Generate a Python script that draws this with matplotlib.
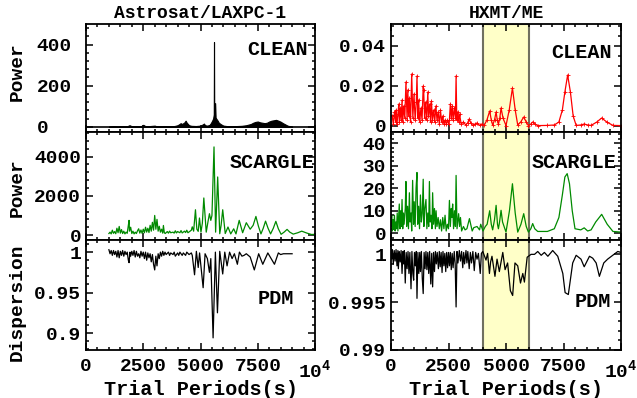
import matplotlib
matplotlib.use('Agg')
import matplotlib.pyplot as plt
from matplotlib.ticker import MultipleLocator, AutoMinorLocator, FixedLocator

plt.rcParams['font.family'] = ['Liberation Mono', 'DejaVu Sans Mono']
plt.rcParams['font.weight'] = 'bold'
plt.rcParams['mathtext.fontset'] = 'custom'
plt.rcParams['mathtext.rm'] = 'Liberation Mono:bold'
plt.rcParams['mathtext.bf'] = 'Liberation Mono:bold'

# --- Astrosat/LAXPC-1 ---
ast_clean_p = [1000, 1200, 1400, 1600, 1800, 1900, 2000, 2200, 2400, 2500, 2600, 2800,
               3000, 3050, 3200, 3400, 3600, 3800, 3900, 4000, 4100, 4130, 4200, 4300,
               4350, 4400, 4500, 4600, 4800, 5000, 5100, 5150, 5200, 5300, 5400, 5450,
               5500, 5550, 5580, 5590, 5600, 5640, 5660, 5700, 5750, 5800, 5900, 6000,
               6200, 6400, 6600, 6800, 7000, 7200, 7300, 7400, 7500, 7600, 7700, 7800,
               7900, 8000, 8100, 8200, 8300, 8400, 8500, 8600, 8700, 8800, 8900, 9000]
ast_clean = [2, 3, 2, 4, 3, 8, 3, 4, 3, 10, 3, 4,
             6, 4, 3, 4, 3, 3, 5, 8, 15, 18, 14, 22,
             30, 20, 8, 5, 4, 6, 12, 16, 8, 6, 10, 18,
             28, 40, 60, 412, 60, 115, 45, 38, 30, 20, 12, 6,
             3, 3, 4, 5, 8, 14, 20, 24, 26, 22, 20, 18,
             20, 26, 30, 32, 34, 30, 25, 18, 12, 6, 3, 2]

ast_scargle_p = [1000, 1050, 1100, 1150, 1200, 1250, 1300, 1350, 1400, 1450, 1500, 1550,
                 1600, 1650, 1700, 1750, 1800, 1850, 1880, 1900, 1950, 2000, 2050, 2100,
                 2150, 2200, 2250, 2300, 2350, 2400, 2450, 2500, 2550, 2600, 2650, 2700,
                 2750, 2800, 2850, 2900, 2950, 3000, 3050, 3100, 3150, 3200, 3250, 3300,
                 3350, 3380, 3420, 3460, 3550, 3600, 3650, 3700, 3800, 3850, 3900, 3950,
                 4000, 4100, 4150, 4200, 4300, 4350, 4400, 4450, 4500, 4600, 4640, 4700,
                 4780, 4840, 4900, 4955, 5020, 5080, 5145, 5250, 5330, 5390, 5450, 5500,
                 5590, 5660, 5750, 5840, 5900, 5970, 6080, 6200, 6320, 6450, 6550, 6690,
                 6840, 7000, 7170, 7300, 7420, 7530, 7640, 7740, 7840, 7950, 8060, 8180,
                 8290, 8400, 8520, 8650, 8780, 8900, 9050, 9250, 9420, 9650, 9850, 10000]
ast_scargle = [80, 150, 60, 250, 90, 180, 70, 350, 120, 440, 100, 280,
               80, 200, 60, 150, 90, 500, 750, 200, 400, 80, 200, 60,
               150, 80, 220, 320, 100, 260, 90, 300, 120, 400, 150, 350,
               130, 500, 200, 650, 250, 1000, 300, 800, 200, 450, 150, 300,
               100, 490, 120, 80, 180, 100, 200, 120, 150, 100, 220, 110,
               180, 120, 230, 110, 200, 130, 250, 120, 160, 250, 420, 200,
               1290, 300, 190, 870, 150, 600, 1890, 150, 700, 1090, 750, 1000,
               4490, 150, 2960, 70, 500, 1290, 80, 410, 60, 320, 60, 750,
               120, 630, 300, 500, 950, 450, 60, 350, 710, 350, 60, 350,
               700, 320, 40, 150, 290, 150, 50, 120, 200, 100, 30, 40]

ast_pdm_p = [1000, 1050, 1100, 1150, 1200, 1250, 1300, 1350, 1400, 1450, 1500, 1550,
             1600, 1650, 1700, 1750, 1800, 1850, 1880, 1920, 1950, 2000, 2050, 2100,
             2150, 2200, 2250, 2300, 2350, 2400, 2450, 2500, 2550, 2600, 2650, 2700,
             2750, 2800, 2850, 2900, 2950, 3000, 3050, 3100, 3150, 3200, 3250, 3300,
             3350, 3400, 3450, 3500, 3600, 3650, 3700, 3800, 3850, 3900, 4000, 4050,
             4100, 4200, 4250, 4350, 4400, 4500, 4600, 4640, 4740, 4820, 4900, 4960,
             5115, 5200, 5300, 5390, 5450, 5550, 5650, 5740, 5840, 5970, 6060, 6160,
             6270, 6380, 6480, 6610, 6700, 6810, 6900, 7000, 7170, 7350, 7540, 7720,
             7940, 8230, 8400, 8500, 8620, 8800, 9000]
ast_pdm = [1.003, 0.998, 1.002, 0.996, 1.002, 0.997, 1.001, 0.994, 1.002, 0.993, 1.001, 0.996,
           1.002, 0.995, 1.001, 0.997, 1.000, 0.990, 0.987, 1.000, 0.995, 1.001, 0.996, 1.002,
           0.994, 1.001, 0.995, 0.998, 0.993, 1.001, 0.995, 1.000, 0.992, 1.000, 0.990, 0.999,
           0.993, 0.998, 0.988, 0.997, 0.985, 0.978, 0.995, 0.983, 0.998, 0.992, 1.000, 0.995,
           1.001, 0.996, 1.000, 0.997, 1.000, 0.996, 0.999, 0.997, 1.000, 0.995, 0.999, 0.996,
           1.000, 0.996, 0.999, 0.996, 1.000, 0.997, 0.999, 0.996, 0.972, 1.001, 0.981, 0.999,
           0.956, 0.998, 0.992, 0.975, 0.992, 0.894, 1.000, 0.925, 1.001, 0.973, 1.000, 0.983,
           1.000, 0.992, 0.998, 0.985, 1.000, 0.995, 0.996, 0.998, 0.994, 0.978, 0.998, 0.985,
           0.999, 0.985, 0.999, 0.997, 0.998, 0.998, 0.998]

# --- HXMT/ME ---
hx_clean_p = [50, 100, 150, 200, 220, 260, 300, 340, 360, 400,
              440, 480, 510, 550, 600, 650, 700, 730, 770, 800,
              850, 900, 950, 1000, 1050, 1100, 1130, 1170, 1200, 1250,
              1300, 1350, 1400, 1420, 1460, 1500, 1550, 1600, 1630, 1680,
              1720, 1760, 1800, 1850, 1900, 1950, 2000, 2050, 2100, 2150,
              2200, 2250, 2300, 2350, 2400, 2450, 2500, 2540, 2580, 2620,
              2660, 2700, 2750, 2800, 2830, 2860, 2900, 2950, 2980, 3050,
              3150, 3250, 3330, 3400, 3470, 3550, 3650, 3740, 3850, 3950,
              4050, 4170, 4290, 4360, 4420, 4500, 4570, 4620, 4670, 4730,
              4785, 4870, 5000, 5140, 5280, 5400, 5510, 5640, 5770, 5880,
              5975, 6080, 6160, 6250, 6380, 6800, 7100, 7300, 7450, 7560,
              7680, 7800, 7920, 8050, 8250, 8400, 8550, 8700, 8950, 9160,
              9380, 9650, 10000]
hx_clean = [0.005, 0.001, 0.007, 0.002, 0.008, 0.001, 0.006, 0.011, 0.002, 0.009,
            0.003, 0.013, 0.002, 0.010, 0.004, 0.022, 0.003, 0.018, 0.005, 0.014,
            0.002, 0.026, 0.004, 0.016, 0.003, 0.012, 0.025, 0.004, 0.013, 0.002,
            0.009, 0.003, 0.020, 0.018, 0.004, 0.012, 0.003, 0.017, 0.005, 0.011,
            0.002, 0.0125, 0.003, 0.008, 0.002, 0.010, 0.003, 0.007, 0.001, 0.008,
            0.002, 0.005, 0.001, 0.003, 0.001, 0.003, 0.001, 0.003, 0.011, 0.004,
            0.010, 0.003, 0.009, 0.004, 0.025, 0.003, 0.007, 0.002, 0.006, 0.001,
            0.002, 0.0005, 0.0015, 0.0035, 0.0015, 0.0003, 0.001, 0.0015, 0.0003, 0.001,
            0.0003, 0.003, 0.0075, 0.003, 0.0005, 0.003, 0.007, 0.003, 0.0008, 0.004,
            0.009, 0.004, 0.0002, 0.008, 0.019, 0.008, 0.0005, 0.002, 0.0045, 0.002,
            0.0002, 0.001, 0.002, 0.001, 0.0002, 0.0003, 0.0005, 0.002, 0.008, 0.017,
            0.0255, 0.017, 0.005, 0.0003, 0.0005, 0.001, 0.0005, 0.0003, 0.002, 0.004,
            0.002, 0.0003, 0.0002]

hx_scargle_p = [0, 30, 60, 90, 120, 150, 180, 210, 240, 270, 300, 330, 360, 390, 420, 450,
                480, 510, 540, 570, 620, 650, 680, 720, 760, 800, 830, 870, 900, 940, 980,
                1010, 1050, 1090, 1130, 1160, 1200, 1240, 1280, 1320, 1360, 1400, 1430,
                1470, 1520, 1560, 1600, 1640, 1670, 1700, 1740, 1780, 1810, 1850, 1890,
                1930, 1960, 2000, 2050, 2100, 2150, 2200, 2250, 2300, 2350, 2400, 2450,
                2500, 2540, 2580, 2620, 2650, 2680, 2720, 2760, 2800, 2830, 2870, 2910,
                2940, 2980, 3020, 3070, 3150, 3220, 3300, 3410, 3530, 3600, 3740, 3850,
                3900, 4000, 4100, 4180, 4290, 4360, 4420, 4500, 4570, 4630, 4670, 4720,
                4785, 4850, 5000, 5150, 5280, 5400, 5510, 5650, 5770, 5880, 5975, 6080,
                6160, 6250, 6380, 6800, 7100, 7300, 7450, 7560, 7660, 7760, 7880, 8000,
                8250, 8400, 8550, 8700, 8900, 9160, 9400, 9650, 10000]
hx_scargle = [3, 8, 1, 6, 2, 8, 1, 5, 2, 9, 1, 7, 13, 2, 10, 3,
              15, 2, 9, 4, 11, 23, 3, 12, 2, 18, 5, 9, 1, 23.5, 4,
              14, 3, 20, 27, 4, 12, 2, 17, 5, 9, 24, 3,
              11, 15, 2, 9, 3, 23, 5, 8, 2, 18, 4, 11,
              2, 10, 3, 7, 2, 6, 1, 7, 2, 8, 1, 4,
              2, 14.6, 3, 11, 7, 13, 2, 10, 3, 25.7, 2, 6,
              8.7, 3, 7, 1, 3, 1.5, 2, 6.5, 1, 2.5, 3, 1.5,
              4, 1, 3, 4, 10, 4, 1.5, 6, 12.4, 4, 2, 5,
              10.2, 5, 0.5, 10, 22, 9, 0.5, 4, 8.7, 3, 0.5, 2,
              4.3, 2, 0.8, 0.8, 2, 7, 17, 25, 26.5, 22, 10, 2,
              1.5, 2.4, 1, 1.5, 5, 8.4, 4, 0.8, 0.5]

hx_pdm_p = [0, 30, 60, 100, 140, 180, 220, 260, 300, 320, 360, 400, 440, 480, 520, 550,
            580, 620, 660, 700, 740, 780, 820, 870, 910, 950, 985, 1020, 1060, 1100,
            1130, 1170, 1210, 1250, 1280, 1320, 1360, 1400, 1440, 1480, 1520, 1560,
            1600, 1640, 1680, 1730, 1770, 1810, 1850, 1890, 1930, 1970, 2010, 2060,
            2100, 2140, 2180, 2220, 2260, 2300, 2340, 2380, 2420, 2460, 2500, 2540,
            2580, 2620, 2660, 2700, 2750, 2790, 2830, 2870, 2910, 2970, 3020, 3070,
            3120, 3160, 3200, 3260, 3300, 3340, 3400, 3450, 3500, 3560, 3620, 3680,
            3740, 3800, 3880, 3930, 3990, 4130, 4200, 4280, 4330, 4390, 4520, 4610,
            4710, 4860, 4960, 5070, 5190, 5290, 5390, 5510, 5630, 5730, 5800, 5920,
            6090, 6240, 6380, 6530, 6670, 6820, 7030, 7250, 7470, 7570, 7710, 7900,
            8050, 8260, 8400, 8630, 8770, 8920, 9060, 9250, 9420, 9640, 9860, 10000]
hx_pdm = [1.0006, 0.9995, 1.0005, 0.9990, 1.0004, 0.9993, 1.0005, 0.9988, 1.0004, 0.9985,
          1.0003, 0.9992, 1.0004, 0.9980, 1.0003, 0.9990, 1.0004, 0.9970, 1.0002, 0.9985,
          1.0003, 0.9980, 1.0002, 0.9964, 1.0003, 0.9980, 0.9973, 1.0002, 0.9988, 1.0003,
          0.9954, 1.0002, 0.9980, 1.0002, 0.9982, 1.0003, 0.9975, 0.9959, 1.0002, 0.9985,
          1.0003, 0.9984, 1.0002, 0.9980, 1.0003, 0.9969, 1.0001, 0.9966, 1.0002, 0.9982,
          1.0003, 0.9990, 1.0002, 0.9985, 1.0003, 0.9987, 1.0002, 0.9981, 1.0003, 0.9988,
          1.0001, 0.9982, 1.0002, 0.9986, 1.0002, 0.9988, 1.0002, 0.9984, 1.0001, 0.9986,
          1.0003, 0.9990, 0.9945, 1.0003, 0.9991, 1.0004, 0.9993, 1.0003, 0.9986, 1.0002,
          0.9990, 1.0004, 0.9991, 1.0003, 0.9985, 1.0002, 0.9991, 1.0003, 0.9983, 1.0002,
          0.9995, 1.0001, 0.9980, 1.0001, 1.0003, 0.9994, 1.0001, 0.9980, 0.9992, 0.9998,
          0.9977, 0.9995, 0.9982, 1.0002, 0.9984, 0.9991, 0.9962, 0.9957, 0.9991, 0.9988,
          0.9970, 0.9980, 0.9971, 0.9997, 1.0000, 1.0000, 1.0003, 0.9999, 1.0002, 0.9998,
          1.0004, 0.9998, 0.9980, 0.9960, 0.9958, 0.9991, 0.9999, 0.9995, 0.9987, 0.9998,
          0.9996, 0.9991, 0.9977, 0.9991, 0.9995, 0.9999, 1.0003, 1.0002]

xticks = [0, 2500, 5000, 7500, 10000]
xticklabels = ['0', '2500', '5000', '7500', r'$\mathbf{10^{4}}$']
band = (4000, 6000)

fig = plt.figure(figsize=(6.37, 3.98), dpi=100)

lefts = [86 / 637, 391 / 637]
widths = [229 / 637, 230 / 637]
rows = [(1 - 132 / 398, 108 / 398), (1 - 240 / 398, 108 / 398), (1 - 350 / 398, 110 / 398)]

axes = [[fig.add_axes([lefts[c], rows[r][0], widths[c], rows[r][1]]) for c in range(2)]
        for r in range(3)]

# left column
ax = axes[0][0]
ax.axhline(0, color='black', lw=1.2)
ax.fill_between(ast_clean_p, 0, ast_clean, color='black', lw=0.8)
ax.set_ylim(-25, 500)
ax.set_yticks([0, 200, 400])
ax.set_yticklabels(['0  ', '200', '400'])

ax = axes[1][0]
ax.plot(ast_scargle_p, ast_scargle, color='#008a00', lw=0.9)
ax.set_ylim(-250, 5250)
ax.set_yticks([0, 2000, 4000])
ax.set_yticklabels(['0', '2000', '4000'])

ax = axes[2][0]
ax.plot(ast_pdm_p, ast_pdm, color='black', lw=0.9)
ax.set_ylim(0.879, 1.015)
ax.set_yticks([0.9, 0.95, 1.0])
ax.set_yticklabels(['0.9', '0.95', '1'])

# right column
ax = axes[0][1]
ax.plot(hx_clean_p, hx_clean, color='red', lw=0.9, marker='+', ms=2.5, mew=0.6)
ax.set_ylim(-0.003, 0.051)
ax.set_yticks([0, 0.02, 0.04])
ax.set_yticklabels(['0', '0.02', '0.04'])

ax = axes[1][1]
ax.plot(hx_scargle_p, hx_scargle, color='#008a00', lw=0.9)
ax.set_ylim(-3, 45)
ax.set_yticks([0, 10, 20, 30, 40])
ax.set_yticklabels(['0', '10', '20', '30', '40'])

ax = axes[2][1]
ax.plot(hx_pdm_p, hx_pdm, color='black', lw=0.9)
ax.set_ylim(0.99, 1.0015)
ax.set_yticks([0.99, 0.995, 1.0])
ax.set_yticklabels(['0.99', '0.995', '1'])

for r in range(3):
    axes[r][1].axvspan(band[0], band[1], facecolor='#ffffc8', edgecolor='#707060',
                       lw=1.5, zorder=0)

for r in range(3):
    for c in range(2):
        ax = axes[r][c]
        ax.set_xlim(0, 10000)
        ax.xaxis.set_major_locator(FixedLocator(xticks))
        ax.xaxis.set_minor_locator(MultipleLocator(500))
        ax.yaxis.set_minor_locator(AutoMinorLocator(5 if not (r == 0 and c == 1) else 4))
        ax.tick_params(which='both', direction='in', top=True, right=True,
                       labelsize=14, width=1.1)
        ax.tick_params(which='major', length=5)
        ax.tick_params(which='minor', length=2.5)
        ax.tick_params(axis='x', pad=6)
        for s in ax.spines.values():
            s.set_linewidth(1.3)
        if r == 2:
            ax.set_xticklabels(xticklabels)
            ax.set_xlabel('Trial Periods(s)', fontsize=14.5, fontweight='bold', labelpad=-1)
        else:
            ax.set_xticklabels([])

axes[0][0].tick_params(axis='y', pad=10)

axes[0][0].set_title('Astrosat/LAXPC-1', fontsize=13, fontweight='bold', pad=4)
axes[0][1].set_title('HXMT/ME', fontsize=13, fontweight='bold', pad=4)

lab = dict(fontsize=14.5, fontweight='bold', ha='right', va='center')
axes[0][0].text(0.97, 0.76, 'CLEAN', transform=axes[0][0].transAxes, **lab)
axes[1][0].text(1.0, 0.72, 'SCARGLE', transform=axes[1][0].transAxes, **lab)
axes[2][0].text(0.91, 0.47, 'PDM', transform=axes[2][0].transAxes, **lab)
axes[0][1].text(0.96, 0.74, 'CLEAN', transform=axes[0][1].transAxes, **lab)
axes[1][1].text(0.98, 0.72, 'SCARGLE', transform=axes[1][1].transAxes, **lab)
axes[2][1].text(0.955, 0.445, 'PDM', transform=axes[2][1].transAxes, **lab)

fig.text(17 / 637, 1 - 72 / 398, 'Power', rotation=90, fontsize=14, fontweight='bold',
         ha='center', va='center')
fig.text(17 / 637, 1 - 188 / 398, 'Power', rotation=90, fontsize=14, fontweight='bold',
         ha='center', va='center')
fig.text(17 / 637, 1 - 302 / 398, 'Dispersion', rotation=90, fontsize=14, fontweight='bold',
         ha='center', va='center')

fig.savefig('out.png', dpi=100)
